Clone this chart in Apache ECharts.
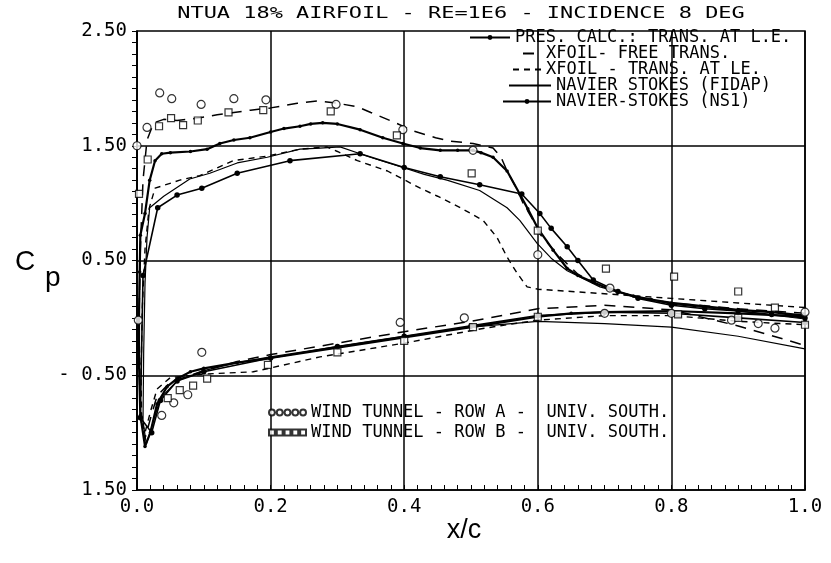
<!DOCTYPE html>
<html>
<head>
<meta charset="utf-8">
<script src="https://cdn.jsdelivr.net/npm/echarts@6/dist/echarts.min.js"></script>
<style>
html,body{margin:0;padding:0;background:#fff;}
#chart{width:831px;height:563px;}
</style>
</head>
<body>
<div id="chart"></div>
<script>
// ---- tick labels ----
const xTickValues = [0, 0.2, 0.4, 0.6, 0.8, 1.0];
const xTickLabels = ['0.0', '0.2', '0.4', '0.6', '0.8', '1.0'];
const yTickValues = [-1.5, -0.5, 0.5, 1.5, 2.5];
const yTickLabels = ['1.50', '- 0.50', '0.50', '1.50', '2.50'];
const gridLevels = [1.5, 0.5, -0.5];

// ---- series names ----
const names = [
  'PRES. CALC.: TRANS. AT L.E.',
  'XFOIL- FREE TRANS.',
  'XFOIL - TRANS. AT LE.',
  'NAVIER STOKES (FIDAP)',
  'NAVIER-STOKES (NS1)',
  'WIND TUNNEL - ROW A -  UNIV. SOUTH.',
  'WIND TUNNEL - ROW B -  UNIV. SOUTH.'
];

// ---- data: [x/c, value]  (upper surface TE->LE, then lower surface LE->TE) ----
const presCalc = [
  [1.0,0.02],[0.95,0.05],[0.9,0.07],[0.85,0.10],[0.8,0.13],[0.77,0.16],[0.743,0.19],[0.708,0.25],
  [0.683,0.31],[0.66,0.37],[0.644,0.43],[0.623,0.59],[0.6,0.78],[0.585,0.95],[0.573,1.08],[0.554,1.28],
  [0.533,1.40],[0.515,1.44],[0.503,1.46],[0.48,1.46],[0.454,1.46],[0.424,1.48],[0.398,1.52],[0.368,1.57],
  [0.334,1.64],[0.3,1.69],[0.278,1.70],[0.26,1.69],[0.244,1.67],[0.22,1.65],[0.2,1.62],[0.169,1.57],
  [0.145,1.55],[0.124,1.52],[0.105,1.47],[0.08,1.45],[0.05,1.44],[0.037,1.43],[0.027,1.37],[0.019,1.2],
  [0.012,0.91],[0.005,0.72],[0.004,0.4],[0.003,0.0],[0.003,-0.4],[0.005,-0.85],
  [0.012,-1.12],[0.02,-1.0],[0.03,-0.75],[0.045,-0.6],[0.06,-0.53],[0.08,-0.47],[0.1,-0.44],[0.15,-0.39],
  [0.2,-0.35],[0.3,-0.26],[0.4,-0.17],[0.5,-0.08],[0.6,0.01],[0.65,0.04],[0.7,0.05],[0.8,0.06],[0.9,0.04],[1.0,0.01]
];
const xfoilFree = [
  [1.0,0.04],[0.9,0.08],[0.8,0.13],[0.75,0.18],[0.7,0.26],[0.66,0.38],[0.63,0.55],[0.603,0.73],
  [0.593,0.85],[0.578,1.0],[0.568,1.13],[0.554,1.28],[0.545,1.4],[0.533,1.48],[0.503,1.52],[0.47,1.54],
  [0.447,1.57],[0.413,1.63],[0.387,1.70],[0.35,1.79],[0.33,1.84],[0.3,1.87],[0.27,1.89],[0.24,1.87],
  [0.2,1.83],[0.17,1.81],[0.145,1.79],[0.12,1.77],[0.09,1.74],[0.06,1.72],[0.04,1.73],[0.025,1.70],
  [0.015,1.55],[0.009,1.2],[0.005,0.6],[0.003,0.0],[0.004,-0.6],[0.007,-0.95],
  [0.012,-1.05],[0.02,-0.88],[0.03,-0.68],[0.05,-0.56],[0.1,-0.46],[0.15,-0.38],[0.2,-0.32],[0.3,-0.22],
  [0.4,-0.12],[0.5,-0.03],[0.6,0.08],[0.7,0.11],[0.8,0.07],[0.9,-0.07],[1.0,-0.24]
];
const xfoilLE = [
  [1.0,0.09],[0.9,0.13],[0.8,0.17],[0.7,0.21],[0.6,0.25],[0.584,0.27],[0.569,0.39],[0.554,0.53],
  [0.539,0.70],[0.518,0.85],[0.484,0.96],[0.45,1.06],[0.424,1.13],[0.375,1.28],[0.33,1.37],[0.3,1.45],
  [0.284,1.49],[0.244,1.47],[0.195,1.41],[0.144,1.37],[0.094,1.24],[0.064,1.2],[0.027,1.13],[0.018,0.95],
  [0.012,0.6],[0.008,0.1],[0.006,-0.5],[0.007,-0.9],
  [0.012,-1.0],[0.02,-0.82],[0.03,-0.62],[0.05,-0.52],[0.1,-0.49],[0.174,-0.47],[0.274,-0.34],[0.4,-0.22],
  [0.52,-0.09],[0.6,-0.02],[0.7,0.02],[0.8,0.02],[0.9,-0.03],[1.0,-0.06]
];
const fidap = [
  [1.0,-0.01],[0.9,0.06],[0.8,0.12],[0.743,0.19],[0.693,0.27],[0.644,0.41],[0.62,0.52],[0.599,0.65],
  [0.573,0.85],[0.554,0.96],[0.513,1.11],[0.464,1.2],[0.43,1.25],[0.398,1.31],[0.36,1.38],[0.334,1.43],
  [0.304,1.49],[0.274,1.48],[0.244,1.47],[0.195,1.40],[0.15,1.35],[0.109,1.26],[0.079,1.21],[0.04,1.06],
  [0.019,0.96],[0.015,0.7],[0.012,0.3],[0.01,-0.3],[0.009,-0.9],
  [0.014,-1.1],[0.022,-0.95],[0.035,-0.7],[0.06,-0.55],[0.1,-0.46],[0.15,-0.39],[0.2,-0.34],[0.3,-0.25],
  [0.4,-0.16],[0.5,-0.08],[0.6,-0.03],[0.7,-0.05],[0.8,-0.08],[0.9,-0.16],[1.0,-0.27]
];
const ns1 = [
  [1.0,0.0],[0.95,0.03],[0.9,0.06],[0.85,0.08],[0.8,0.11],[0.75,0.17],[0.72,0.23],[0.683,0.33],
  [0.66,0.5],[0.644,0.62],[0.62,0.78],[0.603,0.91],[0.576,1.08],[0.513,1.16],[0.454,1.23],[0.4,1.31],
  [0.334,1.43],[0.229,1.37],[0.15,1.26],[0.097,1.13],[0.06,1.07],[0.031,0.96],[0.009,0.37],[0.005,-0.87],
  [0.022,-1.0],[0.035,-0.72],[0.06,-0.55],[0.1,-0.47],[0.2,-0.35],[0.3,-0.25],[0.4,-0.16],[0.5,-0.07],
  [0.6,0.02],[0.7,0.05],[0.8,0.04],[0.9,0.0],[1.0,-0.04]
];
const windA = [
  [0.0,1.5],[0.015,1.66],[0.034,1.96],[0.052,1.91],[0.096,1.86],[0.145,1.91],[0.193,1.90],[0.298,1.86],
  [0.398,1.64],[0.503,1.46],[0.6,0.55],[0.708,0.26],[0.8,0.04],[0.89,-0.02],[0.93,-0.05],[0.955,-0.09],
  [1.0,0.05],
  [0.002,-0.02],[0.037,-0.85],[0.055,-0.74],[0.076,-0.67],[0.097,-0.30],[0.394,-0.04],[0.49,0.0],[0.7,0.04]
];
const windB = [
  [0.003,1.08],[0.016,1.38],[0.033,1.67],[0.051,1.74],[0.069,1.68],[0.091,1.72],[0.137,1.79],[0.189,1.81],
  [0.29,1.80],[0.389,1.59],[0.501,1.26],[0.6,0.76],[0.702,0.43],[0.804,0.36],[0.9,0.23],[0.955,0.09],
  [1.0,-0.06],
  [0.046,-0.7],[0.064,-0.63],[0.084,-0.59],[0.105,-0.53],[0.196,-0.41],[0.3,-0.3],[0.4,-0.2],[0.503,-0.08],
  [0.6,0.01],[0.81,0.03],[0.9,0.0]
];

const MONO = 'DejaVu Sans Mono';

function labelFor(values, labels, v) {
  for (let i = 0; i < values.length; i++) {
    if (Math.abs(values[i] - v) < 1e-6) return labels[i];
  }
  return '';
}

const circlesIcon = 'path://M1,4a3,3 0 1,0 6,0a3,3 0 1,0 -6,0zM9,4a3,3 0 1,0 6,0a3,3 0 1,0 -6,0zM17,4a3,3 0 1,0 6,0a3,3 0 1,0 -6,0zM25,4a3,3 0 1,0 6,0a3,3 0 1,0 -6,0zM33,4a3,3 0 1,0 6,0a3,3 0 1,0 -6,0z';
const squaresIcon = 'path://M1,1h6v6h-6zM9,1h6v6h-6zM17,1h6v6h-6zM25,1h6v6h-6zM33,1h6v6h-6z';

const legendText = {fontFamily: MONO, fontSize: 17, color: '#000', lineHeight: 16};
function leg(name, left, cy, w, h, icon, hideSymbol) {
  const d = icon ? {name: name, icon: icon} : name;
  const l = {
    data: [d], left: left, top: cy - 8, padding: 0, itemWidth: w, itemHeight: h,
    selectedMode: false, textStyle: legendText
  };
  if (hideSymbol) l.itemStyle = {color: 'rgba(0,0,0,0)', borderWidth: 0};
  return l;
}

const chart = echarts.init(document.getElementById('chart'), null, {renderer: 'canvas'});
const option = {
  animation: false,
  backgroundColor: '#fff',
  grid: {left: 137, right: 26, top: 31, bottom: 73, show: true, borderColor: '#000', borderWidth: 1.5, containLabel: false},
  legend: [
    leg(names[0], 469, 37, 40, 6),
    leg(names[1], 522, 53, 18, 6, null, true),
    leg(names[2], 512, 69, 28, 6, null, true),
    leg(names[3], 508, 85, 42, 6, null, true),
    leg(names[4], 502, 101, 48, 6),
    leg(names[5], 268, 412, 37, 7, circlesIcon),
    leg(names[6], 268, 432, 37, 7, squaresIcon)
  ],
  xAxis: {
    type: 'value', min: 0, max: 1, interval: 0.2,
    axisLine: {show: true, onZero: false, lineStyle: {color: '#000', width: 1.5}},
    axisTick: {show: true, inside: true, length: 5, lineStyle: {color: '#000', width: 1}},
    minorTick: {show: true, splitNumber: 10, length: 5, lineStyle: {color: '#000', width: 1}},
    splitLine: {show: true, lineStyle: {color: '#000', width: 1.5}},
    axisLabel: {
      color: '#000', fontFamily: MONO, fontSize: 19, margin: 8,
      formatter: v => labelFor(xTickValues, xTickLabels, v)
    }
  },
  yAxis: {
    type: 'value', min: -1.5, max: 2.5, interval: 0.5,
    axisLine: {show: true, onZero: false, lineStyle: {color: '#000', width: 1.5}},
    axisTick: {show: true, inside: false, length: 5, lineStyle: {color: '#000', width: 1}},
    minorTick: {show: true, splitNumber: 5, length: 5, lineStyle: {color: '#000', width: 1}},
    splitLine: {show: false},
    axisLabel: {
      color: '#000', fontFamily: MONO, fontSize: 19, margin: 10,
      formatter: v => labelFor(yTickValues, yTickLabels, v)
    }
  },
  graphic: [
    {type: 'text', x: 461, y: 14, scaleX: 1.37, z: 10,
     style: {text: 'NTUA 18% AIRFOIL - RE=1E6 - INCIDENCE 8 DEG', font: '16px "DejaVu Sans Mono"', fill: '#000', textAlign: 'center', textVerticalAlign: 'middle'}},
    {type: 'text', x: 15, y: 262, z: 10,
     style: {text: 'C', font: '28px "Liberation Sans"', fill: '#000', textAlign: 'left', textVerticalAlign: 'middle'}},
    {type: 'text', x: 45, y: 278, z: 10,
     style: {text: 'p', font: '28px "Liberation Sans"', fill: '#000', textAlign: 'left', textVerticalAlign: 'middle'}},
    {type: 'text', x: 464, y: 531, z: 10,
     style: {text: 'x/c', font: '27px "Liberation Sans"', fill: '#000', textAlign: 'center', textVerticalAlign: 'middle'}}
  ],
  series: [
    {name: names[0], type: 'line', data: presCalc, symbol: 'circle', symbolSize: 3.5, showSymbol: true,
     itemStyle: {color: '#000'}, lineStyle: {color: '#000', width: 2.2}},
    {name: names[1], type: 'line', data: xfoilFree, showSymbol: false, symbol: 'none',
     itemStyle: {color: '#000'}, lineStyle: {color: '#000', width: 1.5, type: [11, 8]}},
    {name: names[2], type: 'line', data: xfoilLE, showSymbol: false, symbol: 'none',
     itemStyle: {color: '#000'}, lineStyle: {color: '#000', width: 1.4, type: [6, 5]}},
    {name: names[3], type: 'line', data: fidap, showSymbol: false, symbol: 'none',
     itemStyle: {color: '#000'}, lineStyle: {color: '#000', width: 1.2},
     markLine: {silent: true, symbol: ['none', 'none'], label: {show: false},
       lineStyle: {color: '#000', type: 'solid', width: 1.5},
       data: gridLevels.map(v => ({yAxis: v}))}},
    {name: names[4], type: 'line', data: ns1, symbol: 'circle', symbolSize: 5.5, showSymbol: true,
     itemStyle: {color: '#000'}, lineStyle: {color: '#000', width: 1.6}},
    {name: names[5], type: 'scatter', data: windA, symbol: 'circle', symbolSize: 8, z: 5,
     itemStyle: {color: '#fff', borderColor: '#000', borderWidth: 1.2}},
    {name: names[6], type: 'scatter', data: windB, symbol: 'rect', symbolSize: 7, z: 5,
     itemStyle: {color: '#fff', borderColor: '#000', borderWidth: 1.2}}
  ]
};
chart.setOption(option);
</script>
</body>
</html>
